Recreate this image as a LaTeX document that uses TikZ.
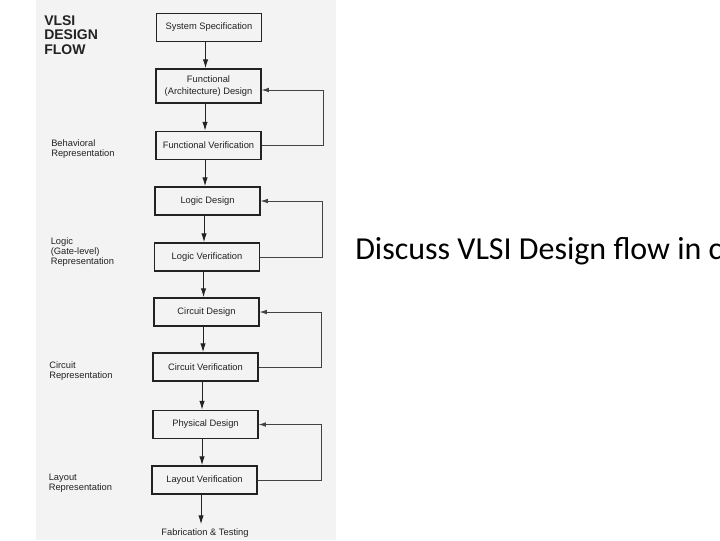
\documentclass[tikz,border=0pt]{standalone}
\usepackage{fontspec}
\setmainfont{Liberation Sans}
\newfontfamily\slidefont{Carlito}
\usetikzlibrary{arrows.meta}
\definecolor{scan}{HTML}{F3F3F3}
\definecolor{ink}{HTML}{222222}
\begin{document}
\begin{tikzpicture}[x=0.75pt,y=-0.75pt,
  box/.style={draw=ink, line width=0.9pt, fill=scan, minimum width=78.75pt, minimum height=21pt, inner sep=0pt, font=\fontsize{7}{8.5}\selectfont, text=ink, align=center},
  arr/.style={draw=ink, line width=0.8pt, -{Latex[length=6.75pt,width=4pt]}},
  fb/.style={draw=ink!85, line width=0.6pt, -{Latex[length=5.5pt,width=3.5pt]}},
  lbl/.style={anchor=north west, inner sep=0pt, align=left, font=\fontsize{7}{7.6}\selectfont, text=ink}]
\useasboundingbox (0,0) rectangle (720,540);
\clip (0,0) rectangle (720,540);
\fill[white] (0,0) rectangle (720,540);
\fill[scan] (36,0) rectangle (336,540);
% title and side labels
\node[lbl, font=\bfseries\fontsize{10.5}{10.9}\selectfont] (title) at (44,15) {VLSI\\DESIGN\\FLOW};
\node[lbl] (beh) at (51,139.5) {Behavioral\\Representation};
\node[lbl] (gate) at (50.5,237.5) {Logic\\(Gate-level)\\Representation};
\node[lbl] (circ) at (49,361.5) {Circuit\\Representation};
\node[lbl] (lay) at (48.5,473.5) {Layout\\Representation};
% boxes
\node[box, line width=1.1pt] (ss) at (209,27.5) {System Specification};
\node[box, minimum height=25.5pt] (fd) at (208.5,86) {Functional\\(Architecture) Design};
\node[box] (fv) at (208.5,145.5) {Functional Verification};
\node[box] (ld) at (207.5,201) {Logic Design};
\node[box] (lv) at (207,257) {Logic Verification};
\node[box] (cd) at (206.5,312) {Circuit Design};
\node[box] (cv) at (205.5,367) {Circuit Verification};
\node[box] (pd) at (205.5,424.5) {Physical Design};
\node[box] (lyv) at (204.5,480) {Layout Verification};
\node[inner sep=0pt, font=\fontsize{7}{8.5}\selectfont, text=ink] (fab) at (205,533) {Fabrication \& Testing};
% down arrows (vertical)
\foreach \a/\b in {ss/fd, fd/fv, fv/ld, ld/lv, lv/cd, cd/cv, cv/pd, pd/lyv}
  \draw[arr] ([xshift=-2.6pt]\a.south) coordinate (t) -- (t |- \b.north);
\draw[arr] ([xshift=-2.6pt]lyv.south) coordinate (t) -- ([yshift=3pt]t |- fab.north);
% feedback loops
\coordinate (r1) at (323,0);
\coordinate (r2) at (322.5,0);
\coordinate (r3) at (321.5,0);
\coordinate (r4) at (321,0);
\draw[fb] (fv.east) -- (fv.east -| r1) -- ([yshift=-3pt]fd.east -| r1) -- ([yshift=-3pt]fd.east);
\draw[fb] (lv.east) -- (lv.east -| r2) -- (ld.east -| r2) -- (ld.east);
\draw[fb] (cv.east) -- (cv.east -| r3) -- (cd.east -| r3) -- (cd.east);
\draw[fb] (lyv.east) -- (lyv.east -| r4) -- (pd.east -| r4) -- (pd.east);
% slide text
\node[anchor=base west, inner sep=0pt, font=\slidefont\fontsize{24}{28}\selectfont] (q) at (355,259) {Discuss VLSI Design flow in c};
\end{tikzpicture}
\end{document}
